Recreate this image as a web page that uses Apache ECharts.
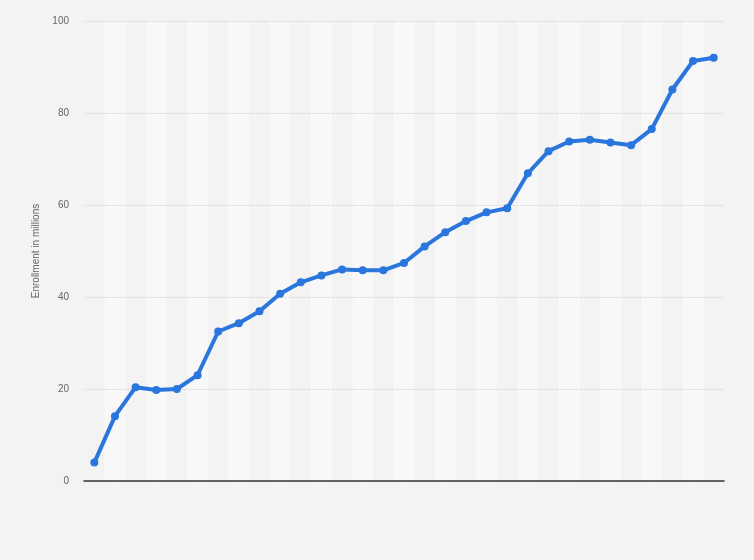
<!DOCTYPE html>
<html>
<head>
<meta charset="utf-8">
<script src="https://cdn.jsdelivr.net/npm/echarts@6/dist/echarts.min.js"></script>
<style>
html,body{margin:0;padding:0;background:#f3f3f3;}
#c{width:754px;height:560px;}
</style>
</head>
<body>
<div id="c"></div>
<script>
var categories = ['1','2','3','4','5','6','7','8','9','10','11','12','13','14','15','16','17','18','19','20','21','22','23','24','25','26','27','28','29','30','31'];
var enrollment = [4.0, 14.1, 20.4, 19.8, 20.0, 23.0, 32.5, 34.3, 36.9, 40.7, 43.2, 44.7, 46.0, 45.8, 45.8, 47.4, 51.0, 54.1, 56.5, 58.4, 59.3, 66.9, 71.7, 73.8, 74.2, 73.6, 73.0, 76.5, 85.1, 91.3, 92.0];
var yTicks = [0, 20, 40, 60, 80, 100];

var gridColors = yTicks.map(function (t) { return t === 0 ? 'rgba(0,0,0,0)' : '#d2d2d2'; });

var chart = echarts.init(document.getElementById('c'), null, {renderer: 'canvas'});
chart.setOption({
  backgroundColor: '#f3f3f3',
  animation: false,
  grid: {left: 84, right: 30, top: 21, bottom: 79},
  xAxis: {
    type: 'category',
    data: categories,
    boundaryGap: true,
    z: 0,
    axisLine: {show: true, lineStyle: {color: '#333333', width: 1.5}},
    axisTick: {show: false},
    axisLabel: {show: false},
    splitLine: {show: false},
    splitArea: {show: true, areaStyle: {color: ['rgba(0,0,0,0)', '#f8f8f8']}}
  },
  yAxis: {
    type: 'value',
    z: 1,
    min: yTicks[0],
    max: yTicks[yTicks.length - 1],
    interval: 20,
    name: 'Enrollment in millions',
    nameLocation: 'middle',
    nameGap: 40,
    nameTextStyle: {color: '#666666', fontSize: 10, fontFamily: 'Arial, Liberation Sans, sans-serif'},
    axisLine: {show: false},
    axisTick: {show: false},
    axisLabel: {color: '#666666', fontSize: 10, margin: 15, fontFamily: 'Arial, Liberation Sans, sans-serif'},
    splitLine: {show: true, lineStyle: {color: gridColors, type: [1, 1], width: 1}}
  },
  series: [{
    type: 'line',
    data: enrollment,
    symbol: 'circle',
    symbolSize: 8,
    lineStyle: {color: '#2a76dd', width: 4},
    itemStyle: {color: '#2a76dd'},
    z: 3
  }]
});
</script>
</body>
</html>
